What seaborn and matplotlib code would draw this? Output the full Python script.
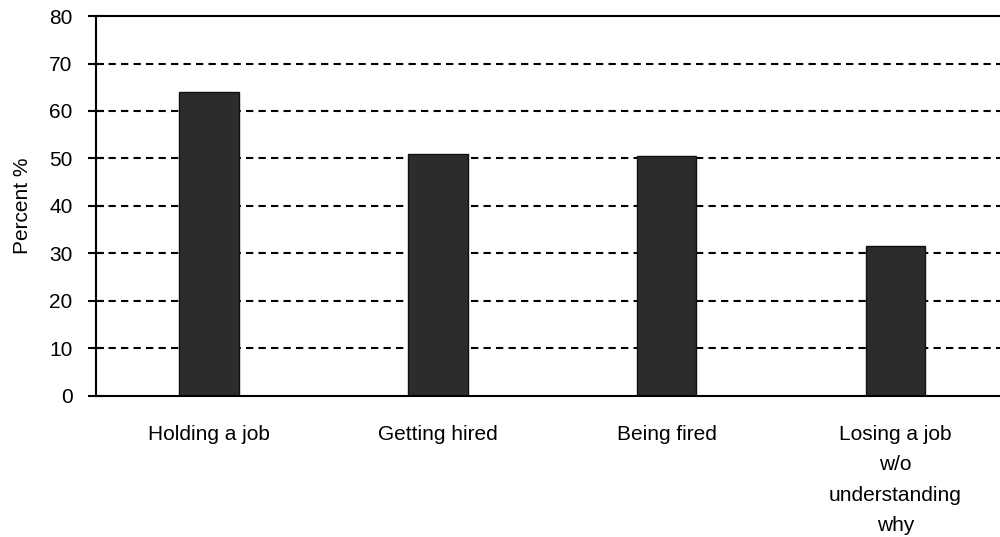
import matplotlib
matplotlib.use("Agg")
import matplotlib.pyplot as plt
import seaborn as sns
import pandas as pd

# Share of respondents per job-related topic
categories = ["Holding a job", "Getting hired", "Being fired",
              "Losing a job\nw/o\nunderstanding\nwhy"]
percent = [64, 51, 50.5, 31.5]
y_ticks = [0, 10, 20, 30, 40, 50, 60, 70, 80]

sns.set_style("white")
plt.rcParams["font.family"] = ["Liberation Sans", "DejaVu Sans"]
plt.rcParams["text.color"] = "black"
plt.rcParams["axes.labelcolor"] = "black"
plt.rcParams["xtick.color"] = "black"
plt.rcParams["ytick.color"] = "black"

df = pd.DataFrame({"topic": categories, "pct": percent})

fig = plt.figure(figsize=(10, 5.37), dpi=100)
ax = fig.add_axes([0.096, 0.2626, 0.915, 0.7076])

sns.barplot(data=df, x="topic", y="pct", order=categories, ax=ax,
            color="#2c2c2c", edgecolor="#111111", linewidth=1.0,
            width=0.26, saturation=1)

ax.set_ylim(0, 80)
ax.set_xlim(-0.495, 3.505)
ax.set_yticks(y_ticks)
ax.set_yticklabels([str(v) for v in y_ticks], fontsize=15)

# Dashed horizontal grid behind the bars
ax.set_axisbelow(True)
for v in y_ticks[1:-1]:
    ax.axhline(v, color="black", linestyle=(0, (3.5, 2.5)), linewidth=1.5, zorder=0)

for side in ["left", "bottom", "top"]:
    ax.spines[side].set_visible(True)
    ax.spines[side].set_color("black")
    ax.spines[side].set_linewidth(1.5)
ax.spines["right"].set_visible(False)

ax.tick_params(axis="y", direction="inout", length=12, width=1.5, pad=11,
               colors="black", left=True)
ax.tick_params(axis="x", length=0, pad=21, labelsize=15, labelcolor="black")
for lbl in ax.get_xticklabels():
    lbl.set_linespacing(1.75)

ax.set_xlabel("")
ax.set_ylabel("Percent %", fontsize=15, labelpad=12, color="black")

fig.savefig("out.png", dpi=100)
